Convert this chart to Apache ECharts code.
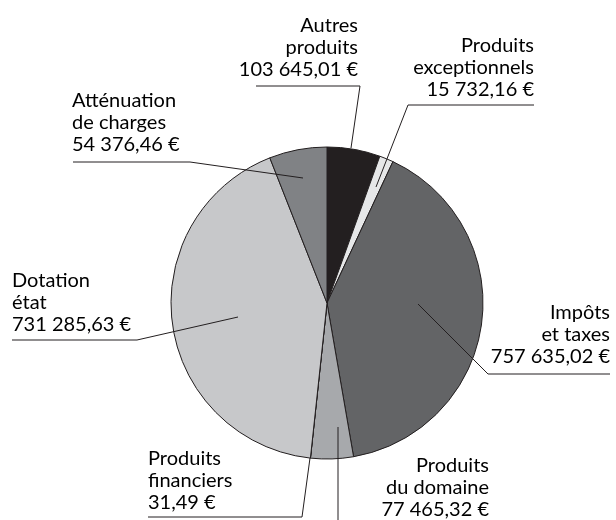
<!DOCTYPE html>
<html>
<head>
<meta charset="utf-8">
<script src="https://cdn.jsdelivr.net/npm/echarts@6/dist/echarts.min.js"></script>
<style>
  html, body { margin: 0; padding: 0; background: #fff; }
  #main { width: 616px; height: 520px; }
</style>
</head>
<body>
<div id="main"></div>
<script>
// data, clockwise from 12 o'clock
const names = [
    'Autres\nproduits',
    'Produits\nexceptionnels',
    'Impôts\net taxes',
    'Produits\ndu domaine',
    'Produits\nfinanciers',
    'Dotation\nétat',
    'Atténuation\nde charges'
];
// amounts printed in the labels
const values = [103645.01, 15732.16, 757635.02, 77465.32, 31.49, 731285.63, 54376.46];
// slice sizes as drawn in the picture (degrees) - the original artwork is not exactly proportional
const sliceDeg = [19.8, 5.2, 145.2, 15.9, 0.01, 152.4, 21.5];
const colors = ['#231f20', '#e6e7e8', '#636466', '#a7a9ac', '#bcbec0', '#c7c8ca', '#808285'];

// label placement (text anchor + leader line)
const labelSpots = [
    { x: 358, y: 15, align: 'right', line: [[351, 148], [360, 86], [256, 86]] },
    { x: 534, y: 35, align: 'right', line: [[376, 187], [408, 105], [534, 105]] },
    { x: 610, y: 302, align: 'right', line: [[418, 304], [488, 374], [610, 374]] },
    { x: 489, y: 455, align: 'right', line: [[338, 427], [338, 530], [489, 530]] },
    { x: 148, y: 448, align: 'left', line: [[310, 458], [302, 517], [148, 517]] },
    { x: 12, y: 270, align: 'left', line: [[238, 317], [137, 340], [12, 340]] },
    { x: 72, y: 90, align: 'left', line: [[303, 178], [190, 162], [73, 162]] }
];

const euro = function (v) {
    const parts = v.toFixed(2).split('.');
    const int = parts[0].replace(/\B(?=(\d{3})+(?!\d))/g, '\u00a0');
    return int + ',' + parts[1] + ' €';
};

const chart = echarts.init(document.getElementById('main'));
const option = {
    animation: false,
    backgroundColor: '#fff',
    series: [{
        // slices
        type: 'pie',
        z: 2,
        center: [327, 303],
        radius: 156,
        startAngle: 90,
        clockwise: true,
        minAngle: 0,
        itemStyle: { borderColor: '#231f20', borderWidth: 1 },
        label: { show: false },
        labelLine: { show: false },
        emphasis: { disabled: true },
        data: names.map(function (n, i) {
            return { name: n, value: sliceDeg[i], itemStyle: { color: colors[i] } };
        })
    }, {
        // same pie, transparent, only for labels + leader lines drawn on top
        type: 'pie',
        z: 5,
        silent: true,
        center: [327, 303],
        radius: 156,
        startAngle: 90,
        clockwise: true,
        avoidLabelOverlap: false,
        itemStyle: { color: 'rgba(0,0,0,0)', borderWidth: 0 },
        label: {
            show: true,
            fontFamily: 'Lato',
            fontSize: 20,
            lineHeight: 22,
            color: '#000',
            formatter: function (p) { return p.name + '\n' + euro(values[p.dataIndex]); }
        },
        labelLine: { show: true, showAbove: true, lineStyle: { color: '#231f20', width: 1 } },
        labelLayout: function (p) {
            const s = labelSpots[p.dataIndex];
            return {
                x: s.x,
                y: s.y,
                align: s.align,
                verticalAlign: 'top',
                labelLinePoints: s.line
            };
        },
        emphasis: { disabled: true },
        data: names.map(function (n, i) {
            return { name: n, value: sliceDeg[i] };
        })
    }]
};
chart.setOption(option);
</script>
</body>
</html>
